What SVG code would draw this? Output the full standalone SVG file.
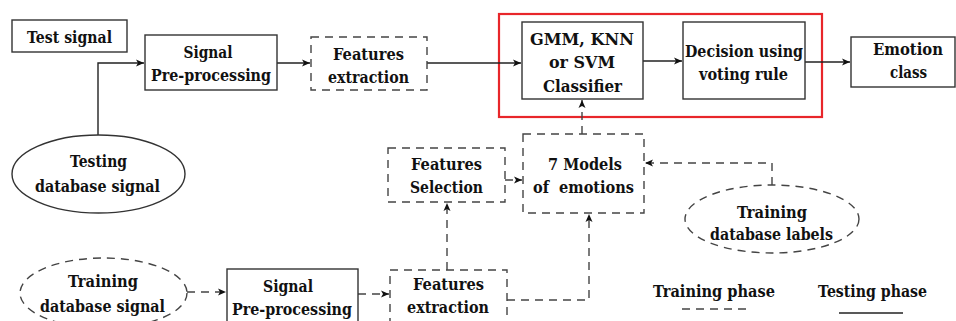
<svg xmlns="http://www.w3.org/2000/svg" width="956" height="321" viewBox="0 0 956 321">
<style>
text{font-family:'DejaVu Serif','Liberation Serif',serif;font-weight:700;font-size:17px;fill:#111;text-anchor:middle}
.box{fill:#fff;stroke:#333;stroke-width:1.4}
.dbox{fill:#fff;stroke:#444;stroke-width:1.4;stroke-dasharray:8 6}
.c{fill:none;stroke:#222;stroke-width:1.4}
.d{fill:none;stroke:#444;stroke-width:1.4;stroke-dasharray:8 6}
</style>
<defs>
<marker id="ah" markerWidth="9" markerHeight="8" refX="8" refY="4" orient="auto" markerUnits="userSpaceOnUse">
<path d="M0,0.5 L8,4 L0,7.5 L2,4 z" fill="#111"/>
</marker>
</defs>
<rect width="956" height="321" fill="#fff"/>
<rect x="499" y="14" width="323" height="103" fill="none" stroke="#e8262a" stroke-width="2.2"/>
<g id="connectors">
<path class="c" d="M98,135 V63 H144" marker-end="url(#ah)"/>
<path class="c" d="M277,63 H310" marker-end="url(#ah)"/>
<path class="c" d="M427,63 H521" marker-end="url(#ah)"/>
<path class="c" d="M643,61 H682" marker-end="url(#ah)"/>
<path class="c" d="M805,62 H850" marker-end="url(#ah)"/>
<path class="d" d="M582,134 V100" marker-end="url(#ah)"/>
<path class="d" d="M505,180 H522" marker-end="url(#ah)"/>
<path class="d" d="M447,270 V203" marker-end="url(#ah)"/>
<path class="d" d="M507,300 H589 V214" marker-end="url(#ah)"/>
<path class="d" d="M772,185 V163 H645" marker-end="url(#ah)"/>
<path class="d" d="M187,292 H226" marker-end="url(#ah)"/>
<path class="d" d="M358,294 H389" marker-end="url(#ah)"/>
</g>
<g id="test-signal"><rect class="box" x="12" y="20" width="115" height="32"/><text x="69.5" y="43" textLength="85" lengthAdjust="spacingAndGlyphs">Test signal</text></g>
<g id="signal-pp-top"><rect class="box" x="145" y="35" width="132" height="55"/><text x="208" y="58" textLength="49" lengthAdjust="spacingAndGlyphs">Signal</text><text x="211" y="81" textLength="120" lengthAdjust="spacingAndGlyphs">Pre-processing</text></g>
<g id="features-extraction-top"><rect class="dbox" x="311" y="37" width="116" height="53"/><text x="368.5" y="60" textLength="71" lengthAdjust="spacingAndGlyphs">Features</text><text x="368.5" y="83" textLength="81" lengthAdjust="spacingAndGlyphs">extraction</text></g>
<g id="classifier"><rect class="box" x="522" y="22" width="121" height="77"/><text x="582" y="45" textLength="104" lengthAdjust="spacingAndGlyphs">GMM, KNN</text><text x="582" y="68" textLength="66" lengthAdjust="spacingAndGlyphs">or SVM</text><text x="582.5" y="92" textLength="79" lengthAdjust="spacingAndGlyphs">Classifier</text></g>
<g id="decision"><rect class="box" x="683" y="22" width="122" height="77"/><text x="744" y="57" textLength="118" lengthAdjust="spacingAndGlyphs">Decision using</text><text x="743.5" y="80" textLength="89" lengthAdjust="spacingAndGlyphs">voting rule</text></g>
<g id="emotion-class"><rect class="box" x="851" y="37" width="104" height="50"/><text x="908" y="55" textLength="70" lengthAdjust="spacingAndGlyphs">Emotion</text><text x="908.5" y="78" textLength="37" lengthAdjust="spacingAndGlyphs">class</text></g>
<g id="testing-db"><ellipse class="box" cx="98.5" cy="174" rx="86.5" ry="39"/><text x="98.5" y="167" textLength="57" lengthAdjust="spacingAndGlyphs">Testing</text><text x="97.5" y="192" textLength="125" lengthAdjust="spacingAndGlyphs">database signal</text></g>
<g id="features-selection"><rect class="dbox" x="388" y="148" width="117" height="54"/><text x="446.5" y="170" textLength="71" lengthAdjust="spacingAndGlyphs">Features</text><text x="446.5" y="193" textLength="73" lengthAdjust="spacingAndGlyphs">Selection</text></g>
<g id="models"><rect class="dbox" x="523" y="134" width="121" height="79"/><text x="585" y="170" textLength="74" lengthAdjust="spacingAndGlyphs">7 Models</text><text x="583.5" y="193" xml:space="preserve" textLength="101" lengthAdjust="spacingAndGlyphs">of  emotions</text></g>
<g id="training-labels"><ellipse class="dbox" cx="772" cy="219" rx="87" ry="34"/><text x="772" y="218" textLength="70" lengthAdjust="spacingAndGlyphs">Training</text><text x="771.5" y="240" textLength="123" lengthAdjust="spacingAndGlyphs">database labels</text></g>
<g id="training-db"><ellipse class="dbox" cx="103.5" cy="293" rx="83.5" ry="35"/><text x="103" y="287" textLength="70" lengthAdjust="spacingAndGlyphs">Training</text><text x="102.5" y="312" textLength="125" lengthAdjust="spacingAndGlyphs">database signal</text></g>
<g id="signal-pp-bottom"><rect class="box" x="227" y="269" width="131" height="60"/><text x="288" y="292" textLength="50" lengthAdjust="spacingAndGlyphs">Signal</text><text x="292" y="315" textLength="120" lengthAdjust="spacingAndGlyphs">Pre-processing</text></g>
<g id="features-extraction-bottom"><rect class="dbox" x="390" y="270" width="117" height="58"/><text x="448.5" y="290" textLength="71" lengthAdjust="spacingAndGlyphs">Features</text><text x="448" y="313" textLength="82" lengthAdjust="spacingAndGlyphs">extraction</text></g>
<g id="legend">
<text x="714" y="297" textLength="122" lengthAdjust="spacingAndGlyphs">Training phase</text>
<line class="d" x1="682" y1="309" x2="750" y2="309"/>
<text x="872.5" y="297" textLength="109" lengthAdjust="spacingAndGlyphs">Testing phase</text>
<line class="c" x1="839" y1="313" x2="903" y2="313"/>
</g>
</svg>
